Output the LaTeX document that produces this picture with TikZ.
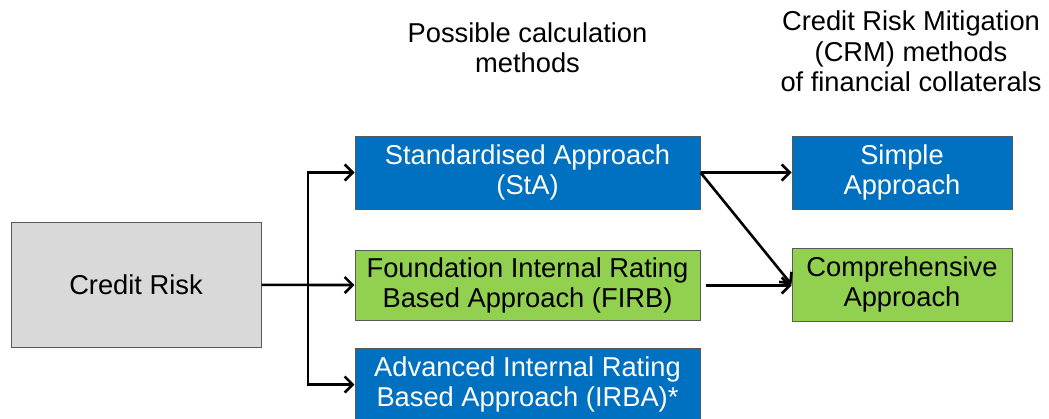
\documentclass[tikz,border=0pt]{standalone}
\usepackage{fontspec}
\setmainfont{Liberation Sans}
\usetikzlibrary{positioning, arrows.meta}
\definecolor{boxblue}{HTML}{0070C0}
\definecolor{boxgreen}{HTML}{92D050}
\definecolor{boxgray}{HTML}{D9D9D9}

\begin{document}
\begin{tikzpicture}[x=1pt,y=-1pt,on grid,
    font=\fontsize{27.3}{30.5}\selectfont,
    box/.style={draw=black!65,line width=1pt,inner sep=0pt,align=center,minimum height=73pt},
    method/.style={box,minimum width=345pt},
    crm/.style={box,minimum width=220pt},
    bluebox/.style={fill=boxblue,text=white},
    greenbox/.style={fill=boxgreen},
    link/.style={->,line width=2.6pt,>={Straight Barb[length=8pt,width=16pt]}}]
      \useasboundingbox (0,0) rectangle (1049,418);
      \node[box,fill=boxgray,minimum width=250pt,minimum height=125pt] (credit) at (136,284.5) {Credit Risk};
      \node[method,bluebox] (sta) at (527.5,172.5) {Standardised Approach\\(StA)};
      \node[method,greenbox,minimum height=70pt] (firb) [below=113pt of sta] {Foundation Internal Rating\\Based Approach (FIRB)};
      \node[method,bluebox] (irba) [below=99pt of firb] {Advanced Internal Rating\\Based Approach (IRBA)*};
      \node[crm,bluebox] (simple) [right=374.5pt of sta] {Simple\\Approach};
      \node[crm,greenbox] (comp) [below=112pt of simple] {Comprehensive\\Approach};
      \node[align=center] (calc) [above=125pt of sta] {Possible calculation\\methods};
      \node[align=center] (crmhead) at (911,51.5) {Credit Risk Mitigation\\(CRM) methods\\of financial collaterals};
      \coordinate (split) at (308,284.5);
      \draw[link] (credit) -- (firb);
      \draw[link] (split) |- (sta);
      \draw[link] (split) |- (irba);
      \draw[link] (sta.east) -- (simple);
      \draw[link] (sta.east) -- (comp.west);
      \draw[link,shorten <=5pt] (firb) -- (firb.east -| comp.west);
    \end{tikzpicture}
\end{document}
